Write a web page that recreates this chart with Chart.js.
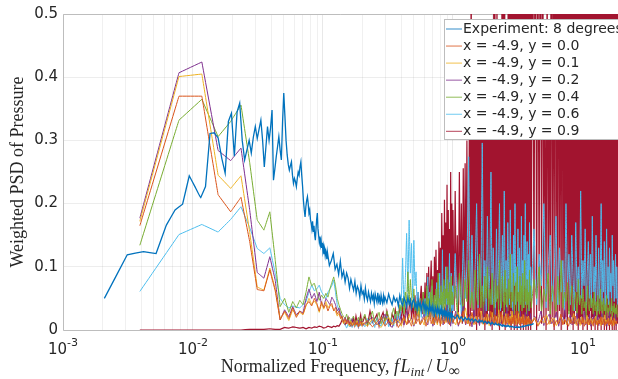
<!DOCTYPE html>
<html>
<head>
<meta charset="utf-8">
<script src="https://cdn.jsdelivr.net/npm/chart.js@4/dist/chart.umd.min.js"></script>
<style>
  html, body { margin: 0; padding: 0; background: #fff; }
  #psd { display: block; }
</style>
</head>
<body>
<canvas id="psd" width="618" height="379"></canvas>
<script>
// axis limits and tick labels
const X_MIN = 0.001;
const X_MAX = 18.6;
const X_DECADES = [-3, -2, -1, 0, 1];
const Y_TICKS = [0, 0.1, 0.2, 0.3, 0.4, 0.5];
const Y_LABELS = ['0', '0.1', '0.2', '0.3', '0.4', '0.5'];

const SERIES_NAMES = [
  'Experiment: 8 degrees',
  'x = -4.9, y = 0.0',
  'x = -4.9, y = 0.1',
  'x = -4.9, y = 0.2',
  'x = -4.9, y = 0.4',
  'x = -4.9, y = 0.6',
  'x = -4.9, y = 0.9'
];
const SERIES_COLORS = ['#0072BD', '#D95319', '#EDB120', '#7E2F8E', '#77AC30', '#4DBEEE', '#A2142F'];
const SERIES_WIDTHS = [1.3, 1, 1, 1, 1, 1, 1.2];

// frequency bin widths of the two spectra
const EXP_DF = 0.00104;
const SIM_DF = 0.0039;

// experiment: bins 2..103, then thinned blocks (0.108 step 0.004, 0.30 step 0.01, 1.0 step 0.04)
const EXP_LOW = [
  0.050, 0.119, 0.124, 0.121, 0.166, 0.190, 0.199, 0.244, 0.226, 0.209,
  0.227, 0.311, 0.312, 0.304, 0.272, 0.248, 0.330, 0.343, 0.275, 0.345,
  0.359, 0.300, 0.269, 0.285, 0.300, 0.280, 0.305, 0.322, 0.303, 0.318,
  0.332, 0.300, 0.258, 0.290, 0.322, 0.300, 0.320, 0.348, 0.237, 0.255,
  0.274, 0.290, 0.306, 0.285, 0.269, 0.330, 0.375, 0.338, 0.300, 0.277,
  0.262, 0.253, 0.260, 0.266, 0.245, 0.232, 0.240, 0.235, 0.227, 0.240,
  0.250, 0.245, 0.258, 0.266, 0.245, 0.227, 0.205, 0.190, 0.179, 0.195,
  0.205, 0.211, 0.200, 0.185, 0.190, 0.175, 0.169, 0.160, 0.172, 0.155,
  0.165, 0.150, 0.142, 0.160, 0.175, 0.185, 0.160, 0.150, 0.140, 0.148,
  0.135, 0.142, 0.130, 0.138, 0.125, 0.132, 0.120, 0.128, 0.118, 0.125,
  0.121, 0.112
];
const EXP_MID = [
  0.124, 0.102, 0.110, 0.121, 0.096, 0.104, 0.088, 0.109, 0.084, 0.093,
  0.076, 0.090, 0.082, 0.066, 0.080, 0.071, 0.063, 0.077, 0.058, 0.069,
  0.064, 0.052, 0.070, 0.057, 0.061, 0.049, 0.066, 0.053, 0.047, 0.060,
  0.052, 0.045, 0.058, 0.049, 0.055, 0.042, 0.057, 0.050, 0.044, 0.059,
  0.046, 0.052, 0.040, 0.055, 0.047, 0.042, 0.054, 0.045
];
const EXP_BAND = [
  0.052, 0.043, 0.057, 0.047, 0.040, 0.053, 0.045, 0.050, 0.038, 0.055,
  0.044, 0.039, 0.051, 0.046, 0.036, 0.052, 0.041, 0.048, 0.035, 0.045,
  0.049, 0.036, 0.042, 0.032, 0.047, 0.038, 0.043, 0.031, 0.040, 0.045,
  0.033, 0.041, 0.029, 0.038, 0.034, 0.027, 0.042, 0.031, 0.036, 0.028,
  0.038, 0.030, 0.024, 0.036, 0.031, 0.026, 0.035, 0.028, 0.033, 0.023,
  0.031, 0.027, 0.034, 0.022, 0.029, 0.025, 0.032, 0.021, 0.028, 0.024,
  0.030, 0.020, 0.026, 0.029, 0.019, 0.025, 0.022, 0.028, 0.018, 0.024
];
const EXP_TAIL = [
  0.022, 0.018, 0.024, 0.017, 0.021, 0.015, 0.020, 0.016, 0.019, 0.014,
  0.018, 0.013, 0.017, 0.015, 0.012, 0.016, 0.013, 0.015, 0.011, 0.014,
  0.012, 0.010, 0.013, 0.011, 0.009, 0.012, 0.010, 0.008, 0.011, 0.009,
  0.008, 0.010, 0.007, 0.009, 0.007, 0.006, 0.008, 0.006, 0.007, 0.005,
  0.007, 0.006, 0.007, 0.005, 0.006, 0.005, 0.006, 0.005, 0.005, 0.004,
  0.005, 0.004, 0.005, 0.004, 0.004, 0.005, 0.004, 0.005, 0.005, 0.005,
  0.005, 0.006, 0.005, 0.006, 0.006, 0.006, 0.007, 0.007, 0.007, 0.008,
  0.007, 0.008, 0.008, 0.008, 0.009, 0.008, 0.009, 0.009, 0.010, 0.009
];

// simulations: bins 1..51 of SIM_DF, then 0.20 onwards in thinned blocks
const Y00_LOW = [
  0.165, 0.370, 0.370, 0.214, 0.187, 0.210, 0.140, 0.064, 0.062, 0.095,
  0.062, 0.016, 0.030, 0.018, 0.035, 0.020, 0.030, 0.025, 0.040, 0.045,
  0.038, 0.050, 0.042, 0.030, 0.045, 0.035, 0.040, 0.030, 0.038, 0.042,
  0.030, 0.036, 0.025, 0.030, 0.018, 0.022, 0.012, 0.018, 0.010, 0.015,
  0.008, 0.012, 0.006, 0.010, 0.015, 0.008, 0.012, 0.005, 0.010, 0.014,
  0.008
];
const Y00_MID = [
  0.008, 0.015, 0.005, 0.012, 0.020, 0.006, 0.014, 0.010, 0.018, 0.004,
  0.012, 0.022, 0.008, 0.015, 0.006, 0.025, 0.010, 0.018, 0.008, 0.014,
  0.020, 0.006, 0.015, 0.030, 0.010, 0.018, 0.008, 0.025, 0.012, 0.020,
  0.006, 0.028, 0.015, 0.010, 0.035, 0.012, 0.020, 0.008, 0.030, 0.015
];
const Y00_HIGH = [
  0.012, 0.025, 0.008, 0.018, 0.030, 0.010, 0.020, 0.006, 0.028, 0.014,
  0.009, 0.022, 0.035, 0.012, 0.018, 0.007, 0.026, 0.015, 0.010, 0.030,
  0.016, 0.008, 0.024, 0.012, 0.020, 0.006, 0.018, 0.028, 0.010, 0.015,
  0.022, 0.008, 0.014, 0.026, 0.010, 0.018, 0.006, 0.020, 0.012, 0.024,
  0.009, 0.016, 0.030, 0.010, 0.014, 0.020, 0.007, 0.018, 0.012, 0.025,
  0.008, 0.015, 0.010, 0.022, 0.006, 0.018, 0.012, 0.020, 0.008, 0.014
];
const Y00_TAIL = [
  0.010, 0.018, 0.006, 0.014, 0.022, 0.008, 0.012, 0.020, 0.005, 0.015,
  0.010, 0.025, 0.008, 0.016, 0.012, 0.006, 0.018, 0.010, 0.014, 0.022,
  0.007, 0.012, 0.016, 0.009, 0.020, 0.006, 0.013, 0.010, 0.018, 0.008,
  0.015, 0.011, 0.006, 0.019, 0.009, 0.014, 0.007, 0.016, 0.010, 0.021,
  0.008, 0.012, 0.017, 0.006, 0.013, 0.010, 0.018, 0.007, 0.014, 0.009,
  0.016, 0.006, 0.012, 0.019, 0.008, 0.013, 0.010, 0.015
];

const Y01_LOW = [
  0.172, 0.401, 0.405, 0.245, 0.224, 0.244, 0.155, 0.068, 0.063, 0.098,
  0.065, 0.018, 0.028, 0.015, 0.032, 0.022, 0.028, 0.024, 0.038, 0.050,
  0.040, 0.046, 0.040, 0.028, 0.042, 0.033, 0.045, 0.035, 0.040, 0.038,
  0.032, 0.030, 0.022, 0.026, 0.020, 0.016, 0.010, 0.015, 0.012, 0.010,
  0.006, 0.014, 0.008, 0.012, 0.006, 0.010, 0.014, 0.006, 0.008, 0.012,
  0.006
];
const Y01_MID = [
  0.012, 0.006, 0.018, 0.010, 0.004, 0.015, 0.020, 0.008, 0.012, 0.016,
  0.006, 0.020, 0.010, 0.025, 0.012, 0.008, 0.018, 0.030, 0.010, 0.015,
  0.008, 0.022, 0.012, 0.018, 0.035, 0.010, 0.020, 0.014, 0.008, 0.030,
  0.015, 0.010, 0.025, 0.040, 0.012, 0.020, 0.030, 0.010, 0.018, 0.025
];
const Y01_HIGH = [
  0.015, 0.008, 0.028, 0.012, 0.020, 0.035, 0.010, 0.018, 0.026, 0.008,
  0.022, 0.012, 0.016, 0.030, 0.009, 0.020, 0.014, 0.025, 0.007, 0.018,
  0.028, 0.010, 0.015, 0.022, 0.008, 0.032, 0.012, 0.018, 0.024, 0.009,
  0.016, 0.026, 0.011, 0.020, 0.007, 0.022, 0.014, 0.030, 0.010, 0.017,
  0.023, 0.008, 0.019, 0.012, 0.026, 0.009, 0.015, 0.021, 0.011, 0.018,
  0.024, 0.008, 0.016, 0.012, 0.020, 0.010, 0.022, 0.007, 0.017, 0.013
];
const Y01_TAIL = [
  0.012, 0.020, 0.008, 0.016, 0.011, 0.024, 0.009, 0.015, 0.019, 0.007,
  0.014, 0.022, 0.010, 0.017, 0.008, 0.020, 0.012, 0.015, 0.026, 0.009,
  0.013, 0.018, 0.007, 0.021, 0.011, 0.016, 0.010, 0.023, 0.008, 0.014,
  0.019, 0.009, 0.017, 0.012, 0.022, 0.008, 0.015, 0.011, 0.018, 0.007,
  0.020, 0.010, 0.014, 0.024, 0.009, 0.016, 0.012, 0.019, 0.008, 0.013,
  0.021, 0.010, 0.015, 0.007, 0.018, 0.011, 0.014, 0.009
];

const Y02_LOW = [
  0.177, 0.407, 0.424, 0.284, 0.268, 0.288, 0.190, 0.091, 0.082, 0.116,
  0.079, 0.016, 0.032, 0.021, 0.037, 0.024, 0.030, 0.027, 0.050, 0.065,
  0.050, 0.058, 0.045, 0.060, 0.040, 0.037, 0.050, 0.045, 0.040, 0.052,
  0.047, 0.040, 0.030, 0.035, 0.025, 0.018, 0.014, 0.020, 0.010, 0.016,
  0.008, 0.012, 0.018, 0.010, 0.006, 0.012, 0.008, 0.016, 0.006, 0.010,
  0.014
];
const Y02_MID = [
  0.006, 0.014, 0.020, 0.008, 0.016, 0.025, 0.010, 0.004, 0.018, 0.012,
  0.022, 0.008, 0.030, 0.012, 0.020, 0.006, 0.015, 0.028, 0.010, 0.018,
  0.025, 0.012, 0.008, 0.020, 0.035, 0.006, 0.015, 0.022, 0.010, 0.030,
  0.012, 0.020, 0.008, 0.025, 0.015, 0.040, 0.010, 0.020, 0.006, 0.028
];
const Y02_HIGH = [
  0.010, 0.030, 0.006, 0.020, 0.038, 0.008, 0.016, 0.025, 0.005, 0.032,
  0.012, 0.020, 0.007, 0.028, 0.015, 0.040, 0.009, 0.018, 0.026, 0.006,
  0.022, 0.012, 0.035, 0.008, 0.017, 0.030, 0.010, 0.024, 0.006, 0.019,
  0.028, 0.011, 0.036, 0.008, 0.015, 0.025, 0.007, 0.020, 0.032, 0.010,
  0.018, 0.006, 0.026, 0.013, 0.022, 0.008, 0.030, 0.012, 0.017, 0.024,
  0.007, 0.020, 0.028, 0.010, 0.015, 0.034, 0.009, 0.021, 0.012, 0.026
];
const Y02_TAIL = [
  0.008, 0.022, 0.012, 0.030, 0.007, 0.018, 0.025, 0.010, 0.016, 0.028,
  0.006, 0.020, 0.013, 0.032, 0.009, 0.017, 0.024, 0.008, 0.021, 0.011,
  0.027, 0.007, 0.015, 0.022, 0.010, 0.030, 0.008, 0.018, 0.012, 0.025,
  0.006, 0.019, 0.014, 0.028, 0.009, 0.016, 0.023, 0.007, 0.020, 0.012,
  0.026, 0.008, 0.017, 0.011, 0.024, 0.006, 0.019, 0.013, 0.029, 0.009,
  0.015, 0.021, 0.008, 0.018, 0.011, 0.025, 0.007, 0.016
];

const Y04_LOW = [
  0.134, 0.332, 0.365, 0.306, 0.330, 0.356, 0.265, 0.174, 0.158, 0.187,
  0.111, 0.037, 0.050, 0.028, 0.045, 0.035, 0.047, 0.040, 0.060, 0.084,
  0.070, 0.074, 0.060, 0.047, 0.055, 0.050, 0.058, 0.052, 0.065, 0.075,
  0.084, 0.070, 0.050, 0.040, 0.032, 0.025, 0.021, 0.018, 0.025, 0.015,
  0.020, 0.012, 0.018, 0.022, 0.014, 0.010, 0.016, 0.020, 0.012, 0.018,
  0.010
];
const Y04_MID = [
  0.015, 0.025, 0.008, 0.020, 0.030, 0.012, 0.018, 0.028, 0.010, 0.022,
  0.015, 0.030, 0.020, 0.012, 0.025, 0.035, 0.018, 0.030, 0.022, 0.040,
  0.030, 0.050, 0.025, 0.060, 0.045, 0.092, 0.040, 0.080, 0.050, 0.035,
  0.065, 0.030, 0.045, 0.025, 0.040, 0.020, 0.050, 0.030, 0.035, 0.060,
  0.025, 0.045, 0.030, 0.070, 0.020, 0.050, 0.035, 0.060, 0.025, 0.080,
  0.040, 0.030, 0.055, 0.020, 0.065, 0.035, 0.045, 0.090, 0.030, 0.050,
  0.040, 0.070, 0.025, 0.060, 0.035, 0.080, 0.045, 0.030, 0.065, 0.050,
  0.100, 0.035, 0.060, 0.040, 0.075, 0.030, 0.055, 0.085, 0.040, 0.060
];
const Y04_HIGH = [
  0.040, 0.070, 0.025, 0.090, 0.050, 0.030, 0.080, 0.045, 0.110, 0.035,
  0.060, 0.030, 0.095, 0.050, 0.040, 0.120, 0.035, 0.070, 0.025, 0.085,
  0.050, 0.100, 0.030, 0.065, 0.040, 0.090, 0.055, 0.020, 0.080, 0.045,
  0.070, 0.030, 0.110, 0.050, 0.035, 0.085, 0.060, 0.025, 0.095, 0.040,
  0.065, 0.030, 0.080, 0.050, 0.120, 0.035, 0.060, 0.045, 0.090, 0.025,
  0.055, 0.075, 0.030, 0.100, 0.045, 0.060, 0.025, 0.085, 0.040, 0.070,
  0.030, 0.090, 0.050, 0.035, 0.110, 0.045, 0.065, 0.025, 0.080, 0.040,
  0.060, 0.030, 0.095, 0.045, 0.070
];
const Y04_TAIL = [
  0.035, 0.080, 0.050, 0.100, 0.030, 0.065, 0.045, 0.090, 0.025, 0.070,
  0.050, 0.030, 0.085, 0.040, 0.110, 0.035, 0.060, 0.045, 0.075, 0.025,
  0.050, 0.070, 0.030, 0.045, 0.060, 0.025, 0.080, 0.040, 0.055, 0.025,
  0.065, 0.035, 0.045, 0.020, 0.070, 0.040, 0.030, 0.055, 0.035, 0.050,
  0.025, 0.060, 0.030, 0.045, 0.020, 0.055, 0.035, 0.025, 0.065, 0.030,
  0.045, 0.020, 0.050, 0.030, 0.040, 0.018, 0.055, 0.028, 0.035, 0.022,
  0.045, 0.025, 0.032, 0.050, 0.020, 0.038, 0.028, 0.042, 0.018, 0.035,
  0.025, 0.040, 0.020
];

const Y06_LOW = [
  0.061, 0.151, 0.167, 0.155, 0.175, 0.195, 0.162, 0.129, 0.121, 0.130,
  0.090, 0.050, 0.040, 0.035, 0.038, 0.036, 0.035, 0.040, 0.045, 0.060,
  0.071, 0.062, 0.065, 0.071, 0.060, 0.055, 0.050, 0.060, 0.065, 0.070,
  0.079, 0.060, 0.040, 0.030, 0.025, 0.020, 0.012, 0.008, 0.003, 0.010,
  0.005, 0.012, 0.004, 0.008, 0.015, 0.006, 0.010, 0.004, 0.012, 0.007,
  0.010
];
const Y06_MID = [
  0.012, 0.005, 0.018, 0.008, 0.015, 0.004, 0.020, 0.010, 0.006, 0.016,
  0.008, 0.022, 0.005, 0.012, 0.018, 0.006, 0.025, 0.010, 0.030, 0.015,
  0.040, 0.114, 0.030, 0.080, 0.153, 0.060, 0.174, 0.090, 0.137, 0.050,
  0.142, 0.070, 0.092, 0.035, 0.060, 0.025, 0.045, 0.020, 0.040, 0.030,
  0.020, 0.050, 0.015, 0.040, 0.084, 0.025, 0.060, 0.018, 0.045, 0.070,
  0.020, 0.035, 0.055, 0.012, 0.040, 0.075, 0.020, 0.050, 0.030, 0.090,
  0.025, 0.060, 0.040, 0.127, 0.030, 0.070, 0.020, 0.055, 0.100, 0.030,
  0.045, 0.080, 0.020, 0.060, 0.121, 0.035, 0.050, 0.090, 0.030, 0.070
];
const Y06_HIGH = [
  0.030, 0.121, 0.040, 0.080, 0.025, 0.142, 0.050, 0.100, 0.274, 0.040,
  0.150, 0.030, 0.090, 0.200, 0.035, 0.120, 0.060, 0.296, 0.045, 0.110,
  0.030, 0.180, 0.050, 0.090, 0.250, 0.040, 0.130, 0.060, 0.020, 0.160,
  0.050, 0.100, 0.200, 0.030, 0.080, 0.150, 0.045, 0.220, 0.060, 0.110,
  0.035, 0.170, 0.080, 0.040, 0.190, 0.060, 0.120, 0.030, 0.150, 0.070,
  0.200, 0.040, 0.100, 0.060, 0.160, 0.030, 0.130, 0.080, 0.045, 0.180,
  0.060, 0.110, 0.035, 0.150, 0.070, 0.200, 0.040, 0.090, 0.140, 0.050,
  0.120, 0.030, 0.170, 0.060, 0.100
];
const Y06_TAIL = [
  0.050, 0.160, 0.040, 0.120, 0.070, 0.200, 0.035, 0.100, 0.150, 0.045,
  0.090, 0.180, 0.040, 0.130, 0.060, 0.110, 0.030, 0.200, 0.070, 0.120,
  0.040, 0.150, 0.080, 0.030, 0.170, 0.060, 0.100, 0.040, 0.220, 0.050,
  0.110, 0.070, 0.160, 0.030, 0.090, 0.140, 0.050, 0.120, 0.035, 0.180,
  0.060, 0.100, 0.040, 0.150, 0.070, 0.030, 0.130, 0.050, 0.090, 0.200,
  0.040, 0.110, 0.060, 0.140, 0.030, 0.080, 0.160, 0.050, 0.100, 0.040,
  0.130, 0.060, 0.090, 0.030, 0.150, 0.070, 0.110, 0.045, 0.080, 0.120,
  0.050, 0.100, 0.040
];

const Y09_LOW = [
  0.000, 0.000, 0.000, 0.000, 0.000, 0.000, 0.001, 0.001, 0.001, 0.002,
  0.001, 0.001, 0.004, 0.003, 0.005, 0.004, 0.003, 0.004, 0.002, 0.004,
  0.003, 0.005, 0.004, 0.006, 0.005, 0.003, 0.004, 0.006, 0.005, 0.004,
  0.006, 0.005, 0.007, 0.006, 0.010, 0.016, 0.012, 0.008, 0.014, 0.020,
  0.010, 0.006, 0.012, 0.018, 0.008, 0.022, 0.012, 0.005, 0.015, 0.024,
  0.010
];
const Y09_MID = [
  0.010, 0.022, 0.008, 0.030, 0.012, 0.018, 0.025, 0.006, 0.020, 0.028,
  0.012, 0.030, 0.015, 0.008, 0.025, 0.018, 0.032, 0.010, 0.022, 0.035,
  0.015, 0.040, 0.012, 0.028, 0.045, 0.010, 0.035, 0.050, 0.018, 0.038,
  0.022, 0.055, 0.015, 0.040, 0.060, 0.020, 0.048, 0.070, 0.025, 0.060,
  0.030, 0.075, 0.020, 0.090, 0.040, 0.100, 0.025, 0.070, 0.110, 0.035,
  0.085, 0.015, 0.116, 0.050, 0.127, 0.030, 0.095, 0.020, 0.140, 0.045,
  0.130, 0.030, 0.185, 0.060, 0.150, 0.020, 0.206, 0.040, 0.170, 0.015,
  0.230, 0.050, 0.190, 0.030, 0.160, 0.010, 0.250, 0.040, 0.200, 0.020
];
const Y09_HIGH = [
  0.190, 0.030, 0.220, 0.050, 0.150, 0.020, 0.250, 0.040, 0.200, 0.010,
  0.256, 0.020, 0.264, 0.050, 0.300, 0.010,
  0.02, 0.42, 0.01, 0.60, 0.03, 0.38, 0.01, 0.45, 0.02, 0.36,
  0.00, 0.47, 0.02, 0.40, 0.01, 0.33, 0.03, 0.46, 0.01, 0.39,
  0.02, 0.44, 0.00, 0.37, 0.02, 0.48, 0.01, 0.41, 0.03, 0.35,
  0.01, 0.46, 0.02, 0.43, 0.00, 0.38, 0.02, 0.58, 0.01, 0.62,
  0.03, 0.44, 0.02, 0.57, 0.01, 0.40, 0.02, 0.47, 0.00, 0.36,
  0.02, 0.45, 0.01, 0.55, 0.03, 0.66, 0.01, 0.60, 0.02, 0.58,
  0.00, 0.46, 0.02, 0.49, 0.01, 0.43, 0.02,
  0.72, 0.02, 0.85, 0.01, 0.64, 0.03, 0.90, 0.00, 0.58, 0.02,
  0.77, 0.01, 0.95, 0.02, 0.68, 0.00, 0.83, 0.03, 0.61, 0.01,
  0.88, 0.02, 0.74, 0.00, 0.92, 0.01, 0.56, 0.03, 0.80, 0.02,
  0.70, 0.01, 0.96, 0.00, 0.63, 0.02, 0.86, 0.01, 0.75, 0.03,
  0.59, 0.00, 0.91, 0.02, 0.67, 0.01, 0.82, 0.02, 0.73, 0.00,
  0.94, 0.01, 0.60, 0.03, 0.79, 0.02, 0.87, 0.00, 0.65, 0.01,
  0.90, 0.02, 0.71, 0.01, 0.84, 0.00, 0.77
];
const Y09_TAIL = [
  0.01, 0.78, 0.02, 0.92, 0.00, 0.66, 0.03, 0.85, 0.01, 0.72,
  0.02, 0.46, 0.00, 0.58, 0.03, 0.44, 0.01, 0.80, 0.02, 0.69,
  0.00, 0.93, 0.02, 0.61, 0.01, 0.87, 0.03, 0.74, 0.00, 0.97,
  0.02, 0.64, 0.01, 0.83, 0.02, 0.70, 0.00, 0.90, 0.03, 0.57,
  0.01, 0.88, 0.02, 0.76, 0.00, 0.95, 0.01, 0.62, 0.03, 0.81,
  0.02, 0.73, 0.00, 0.89, 0.01, 0.66, 0.02, 0.94, 0.01, 0.79,
  0.00, 0.60, 0.03, 0.86, 0.01, 0.71, 0.02, 0.98, 0.00, 0.68,
  0.02, 0.84, 0.01, 0.63, 0.03, 0.91, 0.00, 0.75, 0.02, 0.87,
  0.01, 0.59, 0.02, 0.82, 0.00, 0.96, 0.01, 0.70, 0.03, 0.88,
  0.00, 0.65, 0.02, 0.93, 0.01, 0.77, 0.02, 0.62, 0.00, 0.85,
  0.03, 0.72, 0.01, 0.90, 0.02, 0.67, 0.00, 0.99, 0.01, 0.74,
  0.02, 0.83, 0.00, 0.61, 0.03, 0.88, 0.01, 0.76, 0.02, 0.94,
  0.00, 0.69, 0.02, 0.86, 0.01, 0.58, 0.03, 0.92, 0.00, 0.78,
  0.01, 0.97, 0.02, 0.64, 0.00, 0.81, 0.01, 0.73, 0.02, 0.89,
  0.00, 0.66, 0.03, 0.84, 0.01, 0.75
];

// one block of equally spaced bins starting at `start`
function bins(start, step, values) {
  return values.map((v, i) => ({ x: +(start + i * step).toFixed(6), y: v }));
}

// coarse blocks for the three lowest traces, finer ones for y = 0.4 / 0.6, finest for y = 0.9
function coarseSim(low, mid, high, tail) {
  return [...bins(SIM_DF, SIM_DF, low), ...bins(0.20, 0.02, mid),
          ...bins(1.0, 0.05, high), ...bins(4.0, 0.25, tail)];
}
function fineSim(low, mid, high, tail, highStep, tailStep) {
  return [...bins(SIM_DF, SIM_DF, low), ...bins(0.20, 0.01, mid),
          ...bins(1.0, highStep, high), ...bins(4.0, tailStep, tail)];
}

const seriesData = [
  [...bins(2 * EXP_DF, EXP_DF, EXP_LOW), ...bins(0.108, 0.004, EXP_MID),
   ...bins(0.30, 0.01, EXP_BAND), ...bins(1.0, 0.04, EXP_TAIL)],
  coarseSim(Y00_LOW, Y00_MID, Y00_HIGH, Y00_TAIL),
  coarseSim(Y01_LOW, Y01_MID, Y01_HIGH, Y01_TAIL),
  coarseSim(Y02_LOW, Y02_MID, Y02_HIGH, Y02_TAIL),
  fineSim(Y04_LOW, Y04_MID, Y04_HIGH, Y04_TAIL, 0.04, 0.2),
  fineSim(Y06_LOW, Y06_MID, Y06_HIGH, Y06_TAIL, 0.04, 0.2),
  fineSim(Y09_LOW, Y09_MID, Y09_HIGH, Y09_TAIL, 0.02, 0.1)
];

const SANS = '"DejaVu Sans", sans-serif';
const SERIF = '"Liberation Serif", "DejaVu Serif", serif';
const TEXT = '#262626';
const AXIS = '#bdbdbd';

// box, tick labels, axis titles and the legend are painted by hand
const decorations = {
  id: 'decorations',
  beforeDatasetsDraw(chart) {
    const { ctx, chartArea: a } = chart;
    ctx.save();
    ctx.strokeStyle = AXIS;
    ctx.lineWidth = 1;
    ctx.beginPath();
    ctx.moveTo(a.right, a.top + 0.5);
    ctx.lineTo(a.left + 0.5, a.top + 0.5);
    ctx.lineTo(a.left + 0.5, a.bottom + 0.5);
    ctx.lineTo(a.right, a.bottom + 0.5);
    ctx.stroke();
    ctx.restore();
  },
  afterDraw(chart) {
    const { ctx, chartArea: a, scales: { x, y } } = chart;
    ctx.save();
    ctx.fillStyle = TEXT;

    // y tick labels
    ctx.font = '15px ' + SANS;
    ctx.textAlign = 'right';
    ctx.textBaseline = 'middle';
    Y_TICKS.forEach((v, i) => ctx.fillText(Y_LABELS[i], a.left - 5, y.getPixelForValue(v)));

    // x tick labels, 10 with a raised exponent
    ctx.textAlign = 'left';
    ctx.textBaseline = 'alphabetic';
    X_DECADES.forEach(e => {
      const px = x.getPixelForValue(Math.pow(10, e));
      const exp = String(e);
      ctx.font = '15px ' + SANS;
      const wBase = ctx.measureText('10').width;
      ctx.font = '11px ' + SANS;
      const wExp = ctx.measureText(exp).width;
      const left = px - (wBase + wExp) / 2;
      ctx.font = '15px ' + SANS;
      ctx.fillText('10', left, a.bottom + 24);
      ctx.font = '11px ' + SANS;
      ctx.fillText(exp, left + wBase, a.bottom + 16);
    });

    // y title
    ctx.save();
    ctx.translate(23, (a.top + a.bottom) / 2);
    ctx.rotate(-Math.PI / 2);
    ctx.textAlign = 'center';
    ctx.font = '18px ' + SERIF;
    ctx.fillText('Weighted PSD of Pressure', 0, 0);
    ctx.restore();

    // x title: text, font style, size, baseline shift, extra space after
    const parts = [
      ['Normalized Frequency, ', '', 18, 0, 0],
      ['f', 'italic ', 18, 0, 1.5],
      ['L', 'italic ', 18, 0, 0],
      ['int', 'italic ', 13, 4, 3],
      ['/', '', 18, 0, 3],
      ['U', 'italic ', 18, 0, 0.5],
      ['\u221E', '', 16, 4, 0]
    ];
    let total = 0;
    parts.forEach(p => {
      ctx.font = p[1] + p[2] + 'px ' + SERIF;
      total += ctx.measureText(p[0]).width + p[4];
    });
    let cx = (a.left + a.right) / 2 - total / 2;
    parts.forEach(p => {
      ctx.font = p[1] + p[2] + 'px ' + SERIF;
      ctx.fillText(p[0], cx, a.bottom + 42 + p[3]);
      cx += ctx.measureText(p[0]).width + p[4];
    });

    // legend box in the upper right corner
    const lx = a.right - 174, ly = a.top + 5;
    ctx.fillStyle = '#fff';
    ctx.fillRect(lx, ly, 200, 121);
    ctx.strokeStyle = AXIS;
    ctx.lineWidth = 1;
    ctx.strokeRect(lx + 0.5, ly + 0.5, 200, 120);
    ctx.font = '14px ' + SANS;
    ctx.textAlign = 'left';
    ctx.textBaseline = 'middle';
    SERIES_NAMES.forEach((name, i) => {
      const cy = ly + 9.5 + i * 17.05;
      ctx.strokeStyle = SERIES_COLORS[i];
      ctx.globalAlpha = 0.8;
      ctx.beginPath();
      ctx.moveTo(lx + 2, cy + 0.5);
      ctx.lineTo(lx + 18, cy + 0.5);
      ctx.stroke();
      ctx.globalAlpha = 1;
      ctx.fillStyle = TEXT;
      ctx.fillText(name, lx + 19, cy + 1);
    });
    ctx.restore();
  }
};

new Chart(document.getElementById('psd'), {
  type: 'line',
  data: {
    datasets: seriesData.map((pts, i) => ({
      label: SERIES_NAMES[i],
      data: pts,
      borderColor: SERIES_COLORS[i],
      borderWidth: SERIES_WIDTHS[i],
      pointRadius: 0,
      // a tiny tension keeps every vertex (the straight-line fast path merges dense points)
      tension: 0.0001,
      fill: false
    }))
  },
  options: {
    responsive: false,
    animation: false,
    events: [],
    layout: { padding: { left: 63, top: 14, right: 0, bottom: 49 } },
    scales: {
      x: {
        type: 'logarithmic',
        min: X_MIN,
        max: X_MAX,
        ticks: { display: false },
        border: { display: false },
        grid: {
          drawTicks: false,
          color: c => (c.tick && c.tick.major ? 'rgba(0,0,0,0.09)' : 'rgba(0,0,0,0.06)')
        },
        afterBuildTicks(scale) {
          const ticks = [];
          X_DECADES.forEach(e => {
            for (let m = 1; m <= 9; m++) {
              const v = m * Math.pow(10, e);
              if (v <= X_MAX) ticks.push({ value: v, major: m === 1 });
            }
          });
          scale.ticks = ticks;
        }
      },
      y: {
        type: 'linear',
        min: 0,
        max: 0.5,
        ticks: { display: false },
        border: { display: false },
        grid: { drawTicks: false, color: 'rgba(0,0,0,0.07)' },
        afterBuildTicks(scale) {
          scale.ticks = Y_TICKS.map(v => ({ value: v }));
        }
      }
    },
    plugins: {
      legend: { display: false },
      tooltip: { enabled: false }
    }
  },
  plugins: [decorations]
});
</script>
</body>
</html>
